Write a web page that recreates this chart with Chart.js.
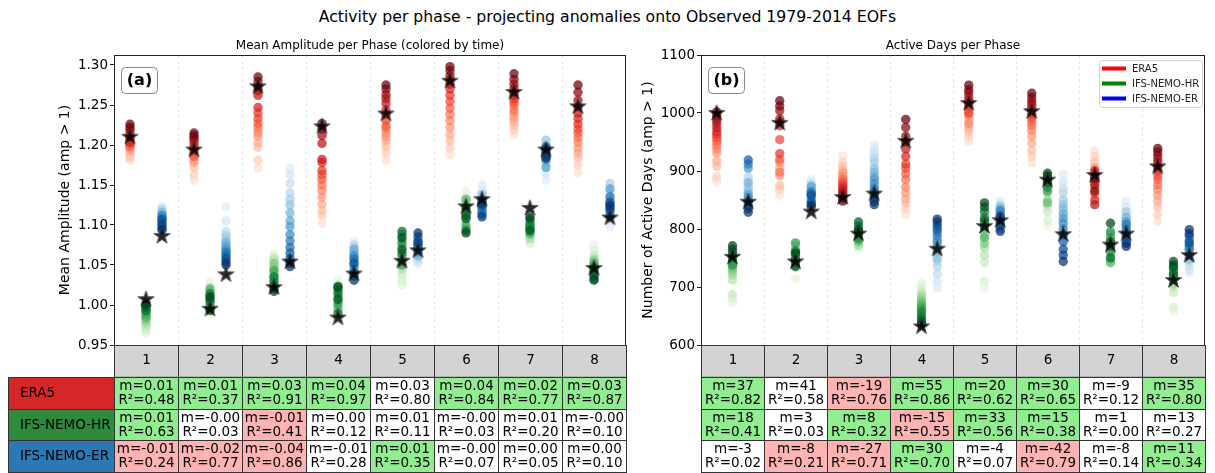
<!DOCTYPE html>
<html>
<head>
<meta charset="utf-8">
<script src="https://cdn.jsdelivr.net/npm/chart.js@4/dist/chart.umd.min.js"></script>
<style>
  html, body { margin: 0; padding: 0; background: #fff; }
  body { width: 1215px; height: 473px; position: relative; overflow: hidden; font-family: "DejaVu Sans", sans-serif; }
  #suptitle { position: absolute; left: 0; top: 7px; width: 1215px; text-align: center; font-size: 15.7px; line-height: 20px; color: #000; }
  #ca { position: absolute; left: 0; top: 0; }
  #cb { position: absolute; left: 636px; top: 0; }
</style>
</head>
<body>
<div id="suptitle">Activity per phase - projecting anomalies onto Observed 1979-2014 EOFs</div>
<canvas id="ca" width="636" height="473"></canvas>
<canvas id="cb" width="579" height="473"></canvas>
<script>
// ---------- categories ----------
const phases = [1, 2, 3, 4, 5, 6, 7, 8];
const models = ['ERA5', 'IFS-NEMO-HR', 'IFS-NEMO-ER'];

// ---------- mean amplitude per phase, ordered in time (early -> late) ----------
const ampERA5 = [
  [1.181, 1.188, 1.185, 1.192, 1.198, 1.196, 1.201, 1.199, 1.204, 1.207, 1.203, 1.210, 1.215, 1.219, 1.222, 1.226],
  [1.156, 1.163, 1.172, 1.178, 1.180, 1.185, 1.188, 1.186, 1.192, 1.196, 1.199, 1.203, 1.207, 1.209, 1.212, 1.215],
  [1.171, 1.181, 1.197, 1.203, 1.211, 1.216, 1.222, 1.227, 1.233, 1.240, 1.247, 1.262, 1.268, 1.273, 1.279, 1.285],
  [1.102, 1.112, 1.118, 1.126, 1.135, 1.143, 1.150, 1.157, 1.163, 1.168, 1.178, 1.182, 1.202, 1.212, 1.220, 1.227],
  [1.181, 1.190, 1.198, 1.205, 1.210, 1.215, 1.221, 1.224, 1.231, 1.238, 1.244, 1.252, 1.258, 1.263, 1.270, 1.275],
  [1.188, 1.196, 1.205, 1.213, 1.222, 1.230, 1.238, 1.246, 1.254, 1.262, 1.270, 1.276, 1.282, 1.287, 1.293, 1.298],
  [1.213, 1.218, 1.224, 1.229, 1.234, 1.240, 1.244, 1.250, 1.254, 1.258, 1.262, 1.266, 1.271, 1.276, 1.282, 1.289],
  [1.165, 1.175, 1.184, 1.190, 1.196, 1.203, 1.209, 1.215, 1.220, 1.226, 1.233, 1.240, 1.248, 1.256, 1.266, 1.275]
];
const ampHR = [
  [0.965, 0.968, 0.972, 0.975, 0.977, 0.980, 0.983, 0.986, 0.985, 0.989, 0.992, 0.995, 0.993, 0.997, 0.999, 1.002],
  [1.029, 1.010, 0.998, 1.022, 1.004, 1.017, 0.995, 1.012, 1.020, 1.001, 1.008, 0.996, 1.014, 1.005, 0.993, 1.010],
  [1.064, 1.060, 1.055, 1.058, 1.050, 1.046, 1.052, 1.040, 1.036, 1.043, 1.031, 1.028, 1.035, 1.024, 1.020, 1.017],
  [1.031, 0.992, 1.012, 1.025, 0.988, 1.018, 1.005, 0.996, 1.022, 1.010, 1.001, 1.020, 0.990, 1.015, 1.007, 1.023],
  [1.025, 1.030, 1.038, 1.066, 1.045, 1.080, 1.055, 1.072, 1.060, 1.088, 1.050, 1.077, 1.064, 1.092, 1.069, 1.084],
  [1.142, 1.135, 1.105, 1.128, 1.118, 1.096, 1.124, 1.110, 1.132, 1.100, 1.115, 1.121, 1.093, 1.112, 1.108, 1.090],
  [1.080, 1.077, 1.085, 1.092, 1.083, 1.098, 1.088, 1.095, 1.102, 1.090, 1.105, 1.096, 1.100, 1.108, 1.093, 1.110],
  [1.075, 1.068, 1.062, 1.050, 1.058, 1.045, 1.055, 1.040, 1.052, 1.036, 1.048, 1.042, 1.033, 1.046, 1.038, 1.031]
];
const ampER = [
  [1.123, 1.118, 1.110, 1.120, 1.113, 1.106, 1.116, 1.102, 1.109, 1.098, 1.112, 1.104, 1.095, 1.107, 1.100, 1.094],
  [1.123, 1.105, 1.092, 1.088, 1.085, 1.080, 1.078, 1.074, 1.071, 1.068, 1.066, 1.063, 1.060, 1.057, 1.053, 1.050],
  [1.171, 1.163, 1.152, 1.140, 1.132, 1.125, 1.115, 1.105, 1.098, 1.088, 1.080, 1.072, 1.065, 1.058, 1.052, 1.048],
  [1.079, 1.072, 1.068, 1.075, 1.060, 1.066, 1.055, 1.070, 1.050, 1.062, 1.045, 1.058, 1.040, 1.052, 1.036, 1.031],
  [1.052, 1.058, 1.055, 1.064, 1.060, 1.068, 1.062, 1.072, 1.066, 1.076, 1.070, 1.080, 1.074, 1.085, 1.078, 1.090],
  [1.150, 1.142, 1.128, 1.135, 1.120, 1.138, 1.125, 1.115, 1.132, 1.122, 1.118, 1.130, 1.113, 1.124, 1.110, 1.127],
  [1.156, 1.165, 1.200, 1.190, 1.178, 1.206, 1.185, 1.195, 1.172, 1.188, 1.198, 1.182, 1.192, 1.187, 1.196, 1.184],
  [1.098, 1.105, 1.140, 1.115, 1.152, 1.122, 1.130, 1.110, 1.145, 1.126, 1.118, 1.135, 1.112, 1.128, 1.120, 1.124]
];
// observed-period reference values (stars)
const ampStarERA5 = [1.211, 1.195, 1.274, 1.224, 1.240, 1.281, 1.267, 1.249];
const ampStarHR   = [1.008, 0.996, 1.023, 0.985, 1.056, 1.124, 1.122, 1.047];
const ampStarER   = [1.087, 1.039, 1.055, 1.040, 1.069, 1.133, 1.195, 1.110];

// ---------- active days per phase, ordered in time (early -> late) ----------
const daysERA5 = [
  [882, 890, 908, 917, 931, 938, 945, 952, 958, 963, 968, 975, 982, 988, 995, 1002],
  [859, 868, 875, 905, 892, 915, 898, 920, 954, 930, 978, 990, 985, 1004, 1012, 1021],
  [926, 915, 908, 900, 896, 890, 886, 882, 878, 874, 870, 866, 862, 858, 853, 848],
  [825, 835, 845, 852, 862, 872, 885, 895, 905, 912, 925, 938, 950, 960, 975, 989],
  [951, 960, 968, 975, 990, 982, 998, 1005, 1000, 1012, 1018, 1022, 1028, 1035, 1040, 1048],
  [914, 925, 935, 948, 960, 970, 978, 985, 992, 998, 1005, 1010, 1015, 1020, 1027, 1034],
  [934, 925, 915, 890, 880, 905, 870, 860, 895, 885, 850, 900, 842, 876, 865, 888],
  [813, 825, 838, 848, 858, 868, 876, 885, 892, 900, 907, 915, 920, 927, 933, 939]
];
const daysHR = [
  [673, 680, 687, 712, 720, 725, 730, 735, 740, 745, 738, 750, 755, 760, 765, 771],
  [714, 735, 750, 765, 740, 770, 745, 760, 738, 755, 776, 742, 762, 748, 735, 758],
  [765, 770, 775, 780, 772, 785, 790, 778, 795, 788, 800, 783, 805, 795, 812, 798],
  [707, 700, 692, 688, 684, 680, 676, 672, 668, 664, 660, 656, 650, 645, 640, 636],
  [699, 710, 742, 755, 768, 790, 775, 800, 785, 812, 805, 820, 830, 815, 838, 845],
  [805, 815, 830, 840, 862, 850, 870, 845, 878, 865, 882, 872, 888, 880, 892, 896],
  [760, 745, 780, 770, 790, 752, 775, 765, 742, 785, 760, 795, 770, 750, 778, 810],
  [658, 665, 690, 700, 712, 705, 718, 725, 715, 728, 720, 732, 738, 722, 735, 744]
];
const daysER = [
  [885, 878, 870, 890, 872, 865, 880, 860, 905, 855, 912, 848, 919, 840, 835, 829],
  [885, 880, 872, 876, 866, 870, 860, 874, 856, 865, 850, 862, 846, 858, 842, 839],
  [945, 938, 930, 922, 915, 905, 898, 890, 885, 878, 870, 865, 858, 852, 847, 842],
  [699, 710, 722, 735, 745, 750, 760, 768, 775, 780, 788, 795, 800, 806, 812, 817],
  [848, 835, 842, 820, 830, 815, 838, 808, 825, 800, 832, 812, 818, 805, 822, 796],
  [894, 882, 870, 862, 850, 842, 835, 826, 818, 810, 800, 790, 778, 765, 755, 744],
  [848, 838, 825, 815, 830, 805, 820, 795, 812, 785, 808, 800, 778, 790, 775, 770],
  [724, 730, 738, 745, 752, 748, 760, 755, 768, 772, 765, 780, 788, 776, 792, 799]
];
const daysStarERA5 = [1001, 984, 856, 953, 1018, 1004, 894, 909];
const daysStarHR   = [753, 745, 793, 633, 806, 886, 774, 713];
const daysStarER   = [848, 831, 862, 767, 816, 792, 793, 756];

// ---------- trend table: slope, R² and shading (g = up, r = down, w = none) ----------
const ampSlopeERA5 = ['0.01', '0.01', '0.03', '0.04', '0.03', '0.04', '0.02', '0.03'];
const ampSlopeHR   = ['0.01', '-0.00', '-0.01', '0.00', '0.01', '-0.00', '0.01', '-0.00'];
const ampSlopeER   = ['-0.01', '-0.02', '-0.04', '-0.01', '0.01', '-0.00', '0.00', '0.00'];
const ampR2ERA5 = [0.48, 0.37, 0.91, 0.97, 0.80, 0.84, 0.77, 0.87];
const ampR2HR   = [0.63, 0.03, 0.41, 0.12, 0.11, 0.03, 0.20, 0.10];
const ampR2ER   = [0.24, 0.77, 0.86, 0.28, 0.35, 0.07, 0.05, 0.10];
const ampShadeERA5 = ['g', 'g', 'g', 'g', 'w', 'g', 'g', 'g'];
const ampShadeHR   = ['g', 'w', 'r', 'w', 'w', 'w', 'w', 'w'];
const ampShadeER   = ['r', 'r', 'r', 'w', 'g', 'w', 'w', 'w'];

const daysSlopeERA5 = ['37', '41', '-19', '55', '20', '30', '-9', '35'];
const daysSlopeHR   = ['18', '3', '8', '-15', '33', '15', '1', '13'];
const daysSlopeER   = ['-3', '-8', '-27', '30', '-4', '-42', '-8', '11'];
const daysR2ERA5 = [0.82, 0.58, 0.76, 0.86, 0.62, 0.65, 0.12, 0.80];
const daysR2HR   = [0.41, 0.03, 0.32, 0.55, 0.56, 0.38, 0.00, 0.27];
const daysR2ER   = [0.02, 0.21, 0.71, 0.70, 0.07, 0.79, 0.14, 0.34];
const daysShadeERA5 = ['g', 'w', 'r', 'g', 'g', 'g', 'w', 'g'];
const daysShadeHR   = ['g', 'w', 'g', 'r', 'g', 'g', 'w', 'w'];
const daysShadeER   = ['w', 'r', 'r', 'g', 'w', 'r', 'w', 'g'];

// ---------- axis ticks ----------
const ampTicks  = [0.95, 1.00, 1.05, 1.10, 1.15, 1.20, 1.25, 1.30];
const daysTicks = [600, 700, 800, 900, 1000, 1100];
const phaseEdges = [1.5, 2.5, 3.5, 4.5, 5.5, 6.5, 7.5];

// ---------- styling ----------
const FONT = '"DejaVu Sans", sans-serif';
const seriesOffset = [-0.25, 0, 0.25];
const RAMPS = [
  ['#fff5f0', '#fee0d2', '#fcbba1', '#fc9272', '#fb6a4a', '#ef3b2c', '#cb181d', '#a50f15', '#67000d'],
  ['#f7fcf5', '#e5f5e0', '#c7e9c0', '#a1d99b', '#74c476', '#41ab5d', '#238b45', '#006d2c', '#00441b'],
  ['#f7fbff', '#deebf7', '#c6dbef', '#9ecae1', '#6baed6', '#4292c6', '#2171b5', '#08519c', '#08306b']
];
const rowLabelColors = ['#d62728', '#2e8b3e', '#2a78b5'];
const legendColors = ['#ff0000', '#008000', '#0000ff'];
const shadeColors = { g: '#90ee90', r: '#ffb3b3', w: '#ffffff' };

function hexToRgb(h) {
  return [parseInt(h.slice(1, 3), 16), parseInt(h.slice(3, 5), 16), parseInt(h.slice(5, 7), 16)];
}
// colour of the i-th year (of n) in a sequential ramp
function timeColor(ramp, i, n) {
  const t = 0.12 + 0.88 * (i / (n - 1));
  const pos = t * (ramp.length - 1);
  const k = Math.min(Math.floor(pos), ramp.length - 2);
  const f = pos - k;
  const a = hexToRgb(ramp[k]), b = hexToRgb(ramp[k + 1]);
  const c = a.map((v, j) => Math.round(v + (b[j] - v) * f));
  return `rgba(${c[0]},${c[1]},${c[2]},0.72)`;
}

// filled five-pointed star marker
function makeStar(size) {
  const c = document.createElement('canvas');
  c.width = c.height = size;
  const g = c.getContext('2d');
  const R = size / 2 - 1, r = R * 0.382, cx = size / 2, cy = size / 2 + 0.8;
  g.beginPath();
  for (let k = 0; k < 10; k++) {
    const ang = -Math.PI / 2 + k * Math.PI / 5;
    const rad = k % 2 === 0 ? R : r;
    g.lineTo(cx + rad * Math.cos(ang), cy + rad * Math.sin(ang));
  }
  g.closePath();
  g.fillStyle = 'rgba(0,0,0,0.85)';
  g.fill();
  g.lineWidth = 0.9;
  g.strokeStyle = 'rgba(60,60,60,0.9)';
  g.stroke();
  return c;
}
const starImg = makeStar(19);

function roundRect(ctx, x, y, w, h, r) {
  ctx.beginPath();
  ctx.moveTo(x + r, y);
  ctx.lineTo(x + w - r, y); ctx.quadraticCurveTo(x + w, y, x + w, y + r);
  ctx.lineTo(x + w, y + h - r); ctx.quadraticCurveTo(x + w, y + h, x + w - r, y + h);
  ctx.lineTo(x + r, y + h); ctx.quadraticCurveTo(x, y + h, x, y + h - r);
  ctx.lineTo(x, y + r); ctx.quadraticCurveTo(x, y, x + r, y);
  ctx.closePath();
}

// frame, subplot title, panel letter, legend and the trend table
const decorPlugin = {
  id: 'decor',
  afterDraw(chart, args, o) {
    const ctx = chart.ctx, a = chart.chartArea, xs = chart.scales.x;
    ctx.save();
    // subplot title
    ctx.fillStyle = '#000';
    ctx.font = `12px ${FONT}`;
    ctx.textAlign = 'center';
    ctx.textBaseline = 'middle';
    ctx.fillText(o.title, (a.left + a.right) / 2, 46);

    // axes frame
    ctx.strokeStyle = '#222';
    ctx.lineWidth = 1;
    ctx.strokeRect(Math.round(a.left) + 0.5, Math.round(a.top) + 0.5, Math.round(a.right - a.left) - 1, Math.round(a.bottom - a.top));

    // panel letter
    const bx = a.left + 7, by = a.top + 12, bw = 36, bh = 26;
    roundRect(ctx, bx + 0.5, by + 0.5, bw, bh, 4);
    ctx.fillStyle = '#fff'; ctx.fill();
    ctx.strokeStyle = '#888'; ctx.lineWidth = 1; ctx.stroke();
    ctx.fillStyle = '#000';
    ctx.font = `bold 16px ${FONT}`;
    ctx.fillText(o.letter, bx + bw / 2 + 0.5, by + bh / 2 + 1);

    // legend
    if (o.legend) {
      const lx = a.right - 106, ly = a.top + 5, lw = 103, lh = 47;
      roundRect(ctx, lx + 0.5, ly + 0.5, lw, lh, 3);
      ctx.fillStyle = 'rgba(255,255,255,0.85)'; ctx.fill();
      ctx.strokeStyle = '#d0d0d0'; ctx.stroke();
      ctx.font = `10px ${FONT}`;
      ctx.textAlign = 'left';
      models.forEach((m, i) => {
        const yy = ly + 8.5 + i * 15;
        ctx.strokeStyle = legendColors[i];
        ctx.lineWidth = 4;
        ctx.beginPath(); ctx.moveTo(lx + 3, yy); ctx.lineTo(lx + 27, yy); ctx.stroke();
        ctx.fillStyle = '#222';
        ctx.fillText(m, lx + 33, yy + 0.5);
      });
    }

    // trend table under the axes
    const rowH = 31.75;
    const top = a.bottom;
    ctx.lineWidth = 1;
    ctx.font = `13.5px ${FONT}`;
    phases.forEach((p, pi) => {
      const x0 = Math.round(xs.getPixelForValue(p - 0.5)) + 0.5;
      const x1 = Math.round(xs.getPixelForValue(p + 0.5)) + 0.5;
      // header cell
      ctx.fillStyle = '#d3d3d3';
      ctx.fillRect(x0, top, x1 - x0, rowH);
      ctx.strokeStyle = '#333';
      ctx.strokeRect(x0, Math.round(top) + 0.5, x1 - x0, rowH);
      ctx.fillStyle = '#000';
      ctx.textAlign = 'center';
      ctx.fillText(String(p), (x0 + x1) / 2, top + rowH / 2);
      // model rows
      o.table.forEach((row, ri) => {
        const y0 = Math.round(top + rowH * (ri + 1)) + 0.5;
        const y1 = Math.round(top + rowH * (ri + 2)) + 0.5;
        ctx.fillStyle = shadeColors[row.shade[pi]];
        ctx.fillRect(x0, y0, x1 - x0, y1 - y0);
        ctx.strokeStyle = '#333';
        ctx.strokeRect(x0, y0, x1 - x0, y1 - y0);
        ctx.fillStyle = '#000';
        const cy = (y0 + y1) / 2;
        ctx.fillText('m=' + row.slope[pi], (x0 + x1) / 2, cy - 6.8);
        ctx.fillText('R²=' + row.r2[pi].toFixed(2), (x0 + x1) / 2, cy + 7);
      });
    });
    // row labels
    if (o.rowLabels) {
      const lx0 = 8.5, lx1 = Math.round(a.left) + 0.5;
      models.forEach((m, ri) => {
        const y0 = Math.round(top + rowH * (ri + 1)) + 0.5;
        const y1 = Math.round(top + rowH * (ri + 2)) + 0.5;
        ctx.fillStyle = rowLabelColors[ri];
        ctx.fillRect(lx0, y0, lx1 - lx0, y1 - y0);
        ctx.strokeStyle = '#333';
        ctx.strokeRect(lx0, y0, lx1 - lx0, y1 - y0);
        ctx.fillStyle = '#000';
        ctx.textAlign = 'left';
        ctx.fillText(m, 20, (y0 + y1) / 2);
      });
    }
    ctx.restore();
  }
};

function buildPanel(canvasId, p) {
  const datasets = [];
  // stars first so they are drawn over the yearly dots
  p.stars.forEach((st, s) => {
    datasets.push({
      data: phases.map((ph, pi) => ({ x: ph + seriesOffset[s], y: st[pi] })),
      pointStyle: starImg,
      pointRadius: 9,
      pointHoverRadius: 9,
      order: 0
    });
  });
  p.series.forEach((ser, s) => {
    const pts = [], cols = [];
    phases.forEach((ph, pi) => {
      const col = ser[pi];
      col.forEach((v, i) => {
        pts.push({ x: ph + seriesOffset[s], y: v });
        cols.push(timeColor(RAMPS[s], i, col.length));
      });
    });
    datasets.push({
      data: pts,
      backgroundColor: cols,
      pointBackgroundColor: cols,
      pointBorderWidth: 0,
      borderWidth: 0,
      pointRadius: 4.7,
      pointHoverRadius: 4.7,
      order: 1
    });
  });

  return new Chart(document.getElementById(canvasId), {
    type: 'scatter',
    data: { datasets },
    options: {
      responsive: false,
      animation: false,
      devicePixelRatio: 1,
      events: [],
      layout: { padding: { top: 55, bottom: 128, left: 0, right: p.padRight } },
      plugins: { legend: { display: false }, tooltip: { enabled: false }, decor: p.decor },
      scales: {
        x: {
          type: 'linear', min: 0.5, max: 8.5,
          afterBuildTicks: s => { s.ticks = phaseEdges.map(v => ({ value: v })); },
          afterFit: s => { s.height = 0; },
          ticks: { display: false },
          grid: { color: 'rgba(0,0,0,0.13)', lineWidth: 0.8, drawTicks: false },
          border: { display: false, dash: [3, 3] }
        },
        y: {
          min: p.yMin, max: p.yMax,
          afterBuildTicks: s => { s.ticks = p.yTicks.map(v => ({ value: v })); },
          afterFit: s => { s.width = p.axisWidth; },
          ticks: {
            autoSkip: false, padding: 2, color: '#000',
            font: { family: FONT, size: 13.5 },
            callback: v => p.fmt(v)
          },
          grid: { drawOnChartArea: false, drawTicks: true, tickLength: 4, color: '#000', lineWidth: 0.9 },
          border: { display: false },
          title: {
            display: true, text: p.yTitle, color: '#000',
            font: { family: FONT, size: 14 },
            padding: { top: p.titlePad, bottom: 0 }
          }
        }
      }
    },
    plugins: [decorPlugin]
  });
}

buildPanel('ca', {
  series: [ampERA5, ampHR, ampER],
  stars: [ampStarERA5, ampStarHR, ampStarER],
  yMin: 0.95, yMax: 1.3125, yTicks: ampTicks,
  fmt: v => v.toFixed(2),
  yTitle: 'Mean Amplitude (amp > 1)',
  axisWidth: 114, titlePad: 56.6, padRight: 6,
  decor: {
    title: 'Mean Amplitude per Phase (colored by time)',
    letter: '(a)', legend: false, rowLabels: true,
    table: [
      { slope: ampSlopeERA5, r2: ampR2ERA5, shade: ampShadeERA5 },
      { slope: ampSlopeHR, r2: ampR2HR, shade: ampShadeHR },
      { slope: ampSlopeER, r2: ampR2ER, shade: ampShadeER }
    ]
  }
});

buildPanel('cb', {
  series: [daysERA5, daysHR, daysER],
  stars: [daysStarERA5, daysStarHR, daysStarER],
  yMin: 600, yMax: 1100, yTicks: daysTicks,
  fmt: v => String(v),
  yTitle: 'Number of Active Days (amp > 1)',
  axisWidth: 65, titlePad: 3.6, padRight: 1,
  decor: {
    title: 'Active Days per Phase',
    letter: '(b)', legend: true, rowLabels: false,
    table: [
      { slope: daysSlopeERA5, r2: daysR2ERA5, shade: daysShadeERA5 },
      { slope: daysSlopeHR, r2: daysR2HR, shade: daysShadeHR },
      { slope: daysSlopeER, r2: daysR2ER, shade: daysShadeER }
    ]
  }
});
</script>
</body>
</html>
